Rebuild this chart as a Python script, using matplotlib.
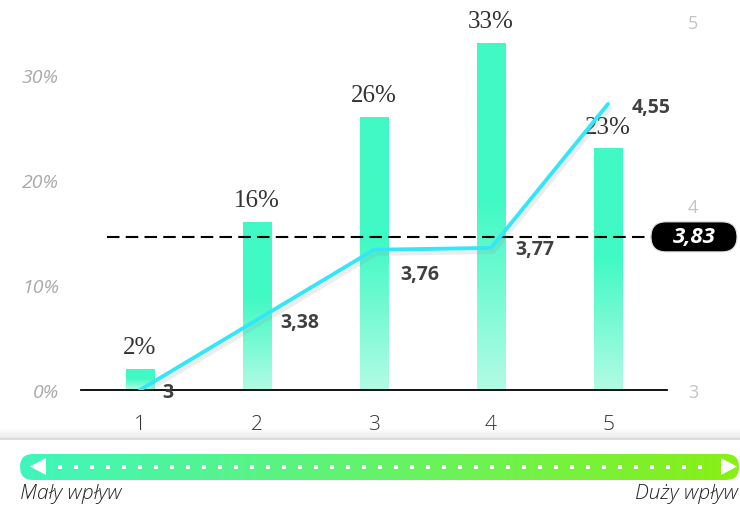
import numpy as np
import matplotlib
matplotlib.use("Agg")
from matplotlib import pyplot as plt
from matplotlib.patches import FancyBboxPatch, Polygon
import matplotlib.patheffects as pe

# data
categories = [1, 2, 3, 4, 5]
shares = [2, 16, 26, 33, 23]          # % of answers
share_labels = ['2%', '16%', '26%', '33%', '23%']
scores = [3.0, 3.38, 3.76, 3.77, 4.55]  # cumulative mean
score_labels = ['3', '3,38', '3,76', '3,77', '4,55']
mean_score = 3.83
mean_label = '3,83'
pct_ticks = [0, 10, 20, 30]
pct_tick_labels = ['0%', '10%', '20%', '30%']
score_ticks = [3, 4, 5]
left_text = 'Mały wpływ'
right_text = 'Duży wpływ'

# label offsets (pixels, y up) for the score labels
lab_dx = [22, 23, 26, 24, 24]
lab_dy = [-2, -2, -24, -1, -3]

W, H = 740, 506
fig = plt.figure(figsize=(W / 100, H / 100), dpi=100)

# overlay in pixel coordinates for the decorations
ov = fig.add_axes([0, 0, 1, 1], zorder=0)
ov.set_xlim(0, W)
ov.set_ylim(H, 0)
ov.axis('off')

ax = fig.add_axes([81 / W, (H - 391) / H, (667 - 81) / W, 391 / H], zorder=1)
ax.patch.set_visible(False)

top_c = np.array([0x40, 0xF9, 0xC4]) / 255
bot_c = np.array([0xB2, 0xFB, 0xE4]) / 255
bw = 0.24
for x, h in zip(categories, shares):
    t = np.linspace(0, 1, 200)  # 0 = bottom, 1 = top
    k = np.clip(t / 0.55, 0, 1)
    cols = bot_c[None, :] * (1 - k[:, None]) + top_c[None, :] * k[:, None]
    img = cols[::-1][:, None, :]
    ax.imshow(img, extent=(x - bw / 2, x + bw / 2, 0, h), aspect='auto',
              interpolation='bilinear', zorder=2)

for x, h, s in zip(categories, shares, share_labels):
    ax.annotate(s, (x, h), xytext=(0, 16), textcoords='offset pixels',
                ha='center', va='baseline', fontsize=18, color='#333333',
                family='Liberation Serif', zorder=3)

ax.set_xlim(0.496, 5.504)
ax.set_ylim(0, 391 / 10.5)
ax.set_xticks(categories)
ax.set_xticklabels([str(c) for c in categories], fontsize=15, color='#333333',
                   family='Open Sans', fontweight='light')
ax.set_yticks(pct_ticks)
ax.set_yticklabels(pct_tick_labels, fontsize=14, color='#aaaaaa',
                   family='Open Sans', style='italic')
ax.tick_params(axis='x', length=0, pad=17)
ax.tick_params(axis='y', length=0, pad=16)
for sp in ['top', 'left', 'right']:
    ax.spines[sp].set_visible(False)
ax.spines['bottom'].set_linewidth(1.3)
ax.spines['bottom'].set_color('black')

ax2 = ax.twinx()
ax2.set_zorder(2)
ax2.patch.set_visible(False)
ax2.set_ylim(3, 3 + 391 / 184.5)
ax2.set_yticks(score_ticks)
ax2.set_yticklabels([str(s) for s in score_ticks], fontsize=13,
                    color='#c4c4c4', family='Open Sans')
ax2.tick_params(axis='y', length=0, pad=15)
for sp in ax2.spines.values():
    sp.set_visible(False)

dash, = ax2.plot([0.72, 5.6], [mean_score, mean_score], color='black',
                 lw=1.5, clip_on=False, zorder=1)
dash.set_dashes((6, 3))

ax2.plot(categories, scores, color='#33E6F8', lw=2.8, solid_capstyle='round',
         zorder=3,
         path_effects=[pe.SimpleLineShadow(offset=(1.5, -3), shadow_color='#999999', alpha=0.18),
                       pe.Normal()])

for x, v, s, dx, dy in zip(categories, scores, score_labels, lab_dx, lab_dy):
    ax2.annotate(s, (x, v), xytext=(dx, dy), textcoords='offset pixels',
                 ha='left', va='center', fontsize=14, fontweight='bold',
                 color='#404040', family='Open Sans', zorder=4)

# mean badge (pixel placement, y taken from the mean line)
my = ov.transData.inverted().transform(ax2.transData.transform((1, mean_score)))[1]
badge = FancyBboxPatch((651, my - 15), 86, 30,
                       boxstyle='round,pad=0,rounding_size=15',
                       transform=ov.transData, fc='black', ec='#e0e0e0', lw=0.8,
                       zorder=5, clip_on=False)
ax2.add_artist(badge)
ax2.text(694, my, mean_label, transform=ov.transData, ha='center', va='center',
         fontsize=16, fontweight='bold', style='italic', color='white',
         family='Open Sans', zorder=6, clip_on=False)

# separator with soft shadow
shade = np.linspace(0, 1, 30)[:, None]
rgba = np.zeros((30, 1, 4))
rgba[..., :3] = 0.75
rgba[..., 3] = shade * 0.35
ov.imshow(rgba, extent=(0, W, 440, 429), aspect='auto', zorder=1)
ov.plot([0, W], [440, 440], color='#d5d5d5', lw=1.2, zorder=2)

# gradient scale band
band_l = np.array([0x40, 0xF6, 0xBE]) / 255
band_r = np.array([0x88, 0xF0, 0x14]) / 255
t = np.linspace(0, 1, 256)
band = (band_l[None, :] * (1 - t[:, None]) + band_r[None, :] * t[:, None])[None, :, :]
im = ov.imshow(band, extent=(20, 739, 481, 455), aspect='auto', zorder=2,
               interpolation='bilinear')
clip = FancyBboxPatch((20, 455), 719, 26, boxstyle='round,pad=0,rounding_size=13',
                      transform=ov.transData, fc='none', ec='none')
ov.add_patch(clip)
im.set_clip_path(clip)
ov.set_xlim(0, W)
ov.set_ylim(H, 0)

dots = np.arange(60, 712, 16)
ov.scatter(dots, np.full(len(dots), 467.5), marker='s', s=9, color='white',
           lw=0, zorder=3)
ov.add_patch(Polygon([(30, 467.5), (46, 459), (46, 476)], closed=True,
                     fc='white', ec='none', zorder=3))
ov.add_patch(Polygon([(737, 467.5), (721, 459), (721, 476)], closed=True,
                     fc='white', ec='none', zorder=3))

ov.text(20, 494, left_text, ha='left', va='center', fontsize=15, style='italic',
        color='#222222', family='Open Sans', fontweight='light')
ov.text(738, 494, right_text, ha='right', va='center', fontsize=15, style='italic',
        color='#222222', family='Open Sans', fontweight='light')

fig.savefig('out.png', dpi=100)
